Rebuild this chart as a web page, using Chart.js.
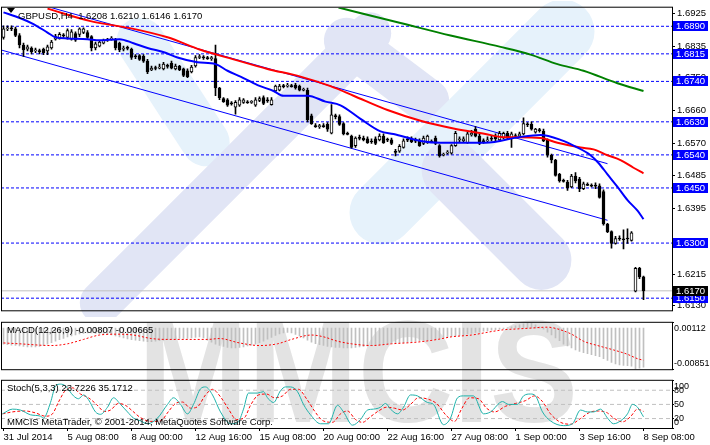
<!DOCTYPE html>
<html>
<head>
<meta charset="utf-8">
<script src="https://cdn.jsdelivr.net/npm/chart.js@4.4.1/dist/chart.umd.min.js"></script>
<style>
  body { margin: 0; background: #fff; width: 710px; height: 445px; overflow: hidden; position: relative; }
  canvas { position: absolute; left: 0; z-index: 2; }
  #main { top: 0; }
  #macd { top: 312px; }
  #stoch { top: 370px; }
  /* broker logo behind the price panel */
  #logo { position: absolute; left: 2px; top: 1px; width: 670px; height: 316px; overflow: hidden; z-index: 0; }
  .band { position: absolute; }
  .cyan { background: #e6f2fb; }
  .lav { background: #e1e5f5; }
  .b1 { left: 87px; top: 67px; width: 168px; height: 48px; border-radius: 24px; transform: rotate(57deg); }
  .b2 { left: 22px; top: 146px; width: 423px; height: 42px; border-radius: 21px; transform: rotate(-45deg); }
  .b3 { left: 310px; top: 89px; width: 320px; height: 64px; border-radius: 32px; transform: rotate(-45deg); }
  .b4 { left: 401px; top: 184px; width: 187px; height: 60px; border-radius: 30px; transform: rotate(45deg); }
  .b5 { left: 312px; top: 47px; width: 145px; height: 45px; border-radius: 22px; transform: rotate(37deg); }
  #mark { position: absolute; left: 138px; top: 300px; z-index: 1; font: bold 132px "Liberation Sans", Arial, sans-serif;
          line-height: 1; color: #e3e3e3; transform: scaleY(1.1); transform-origin: top left; white-space: nowrap; }
</style>
</head>
<body>
<div id="logo">
  <div class="band cyan b1"></div>
  <div class="band lav b2"></div>
  <div class="band lav b5"></div>
  <div class="band cyan b3"></div>
  <div class="band lav b4"></div>
</div>
<div id="mark">MMCIS</div>
<canvas id="main" width="710" height="318"></canvas>
<canvas id="macd" width="710" height="68"></canvas>
<canvas id="stoch" width="710" height="75"></canvas>
<script>
// GBPUSD H4, 31 Jul - 8 Sep 2014, one entry per bar
const opens = [1.6860,1.6883,1.6886,1.6883,1.6865,1.6839,1.6828,1.6831,1.6823,1.6823,
  1.6828,1.6823,1.6831,1.6855,1.6857,1.6865,1.6860,1.6855,1.6870,1.6868,
  1.6873,1.6873,1.6862,1.6831,1.6836,1.6844,1.6852,1.6855,1.6852,1.6844,
  1.6828,1.6831,1.6828,1.6808,1.6810,1.6808,1.6795,1.6771,1.6776,1.6776,
  1.6774,1.6782,1.6789,1.6774,1.6782,1.6774,1.6769,1.6766,1.6782,1.6805,
  1.6805,1.6805,1.6802,1.6802,1.6722,1.6693,1.6690,1.6680,1.6670,1.6675,
  1.6683,1.6683,1.6683,1.6675,1.6688,1.6696,1.6688,1.6677,1.6714,1.6716,
  1.6727,1.6727,1.6727,1.6730,1.6727,1.6716,1.6716,1.6646,1.6620,1.6617,
  1.6620,1.6623,1.6599,1.6646,1.6644,1.6625,1.6597,1.6591,1.6565,1.6586,
  1.6586,1.6584,1.6576,1.6584,1.6581,1.6591,1.6581,1.6581,1.6550,1.6550,
  1.6560,1.6581,1.6584,1.6578,1.6578,1.6571,1.6573,1.6576,1.6586,1.6565,
  1.6539,1.6545,1.6545,1.6565,1.6581,1.6578,1.6573,1.6594,1.6610,1.6591,
  1.6578,1.6578,1.6584,1.6591,1.6581,1.6586,1.6599,1.6584,1.6591,1.6591,
  1.6597,1.6623,1.6623,1.6602,1.6607,1.6604,1.6581,1.6539,1.6526,1.6487,
  1.6469,1.6466,1.6453,1.6482,1.6474,1.6448,1.6458,1.6456,1.6456,1.6456,
  1.6440,1.6352,1.6331,1.6299,1.6312,1.6310,1.6312,1.6307,1.6169,1.6231,
  1.6208];
const highs = [1.6891,1.6891,1.6891,1.6888,1.6870,1.6844,1.6839,1.6834,1.6831,1.6828,
  1.6831,1.6839,1.6852,1.6868,1.6873,1.6870,1.6883,1.6881,1.6875,1.6886,
  1.6886,1.6878,1.6865,1.6847,1.6852,1.6855,1.6857,1.6862,1.6857,1.6847,
  1.6836,1.6836,1.6831,1.6813,1.6813,1.6813,1.6800,1.6782,1.6782,1.6787,
  1.6792,1.6787,1.6795,1.6787,1.6784,1.6776,1.6774,1.6784,1.6810,1.6813,
  1.6810,1.6808,1.6808,1.6839,1.6724,1.6696,1.6693,1.6685,1.6688,1.6696,
  1.6693,1.6688,1.6688,1.6696,1.6698,1.6701,1.6696,1.6696,1.6730,1.6732,
  1.6732,1.6735,1.6732,1.6735,1.6730,1.6722,1.6722,1.6651,1.6625,1.6623,
  1.6625,1.6628,1.6677,1.6651,1.6649,1.6628,1.6602,1.6594,1.6589,1.6594,
  1.6591,1.6589,1.6584,1.6589,1.6597,1.6597,1.6586,1.6586,1.6555,1.6568,
  1.6584,1.6589,1.6589,1.6586,1.6584,1.6591,1.6594,1.6581,1.6591,1.6568,
  1.6545,1.6552,1.6568,1.6604,1.6589,1.6589,1.6602,1.6607,1.6617,1.6597,
  1.6584,1.6589,1.6591,1.6597,1.6604,1.6602,1.6604,1.6602,1.6597,1.6602,
  1.6641,1.6628,1.6630,1.6612,1.6612,1.6610,1.6584,1.6542,1.6528,1.6490,
  1.6474,1.6471,1.6487,1.6492,1.6479,1.6466,1.6464,1.6461,1.6464,1.6461,
  1.6445,1.6354,1.6333,1.6318,1.6320,1.6336,1.6339,1.6331,1.6234,1.6234,
  1.6210];
const lows = [1.6855,1.6878,1.6878,1.6862,1.6831,1.6808,1.6823,1.6815,1.6818,1.6815,
  1.6813,1.6813,1.6828,1.6852,1.6855,1.6860,1.6855,1.6852,1.6849,1.6862,
  1.6870,1.6857,1.6823,1.6826,1.6834,1.6842,1.6849,1.6852,1.6826,1.6821,
  1.6823,1.6826,1.6800,1.6802,1.6797,1.6792,1.6761,1.6769,1.6771,1.6774,
  1.6771,1.6776,1.6774,1.6771,1.6769,1.6753,1.6750,1.6763,1.6779,1.6802,
  1.6800,1.6800,1.6797,1.6701,1.6690,1.6683,1.6672,1.6675,1.6651,1.6672,
  1.6680,1.6680,1.6680,1.6672,1.6685,1.6677,1.6683,1.6675,1.6711,1.6714,
  1.6722,1.6724,1.6724,1.6719,1.6714,1.6714,1.6630,1.6623,1.6615,1.6612,
  1.6615,1.6604,1.6597,1.6638,1.6620,1.6594,1.6594,1.6558,1.6560,1.6581,
  1.6578,1.6571,1.6571,1.6568,1.6578,1.6571,1.6576,1.6568,1.6537,1.6547,
  1.6558,1.6576,1.6573,1.6573,1.6563,1.6568,1.6571,1.6573,1.6568,1.6534,
  1.6537,1.6542,1.6542,1.6563,1.6573,1.6573,1.6571,1.6591,1.6589,1.6568,
  1.6571,1.6573,1.6578,1.6578,1.6578,1.6584,1.6584,1.6560,1.6586,1.6589,
  1.6594,1.6617,1.6607,1.6599,1.6602,1.6576,1.6534,1.6518,1.6482,1.6466,
  1.6466,1.6443,1.6451,1.6464,1.6440,1.6445,1.6456,1.6453,1.6448,1.6422,
  1.6349,1.6328,1.6286,1.6297,1.6307,1.6284,1.6299,1.6305,1.6167,1.6203,
  1.6146];
const closes = [1.6883,1.6886,1.6883,1.6865,1.6839,1.6826,1.6834,1.6821,1.6826,1.6821,
  1.6818,1.6834,1.6847,1.6862,1.6868,1.6864,1.6878,1.6875,1.6852,1.6883,
  1.6883,1.6860,1.6831,1.6842,1.6847,1.6852,1.6855,1.6857,1.6831,1.6826,
  1.6831,1.6830,1.6805,1.6807,1.6800,1.6795,1.6766,1.6776,1.6775,1.6779,
  1.6787,1.6781,1.6776,1.6782,1.6771,1.6756,1.6753,1.6779,1.6805,1.6807,
  1.6804,1.6802,1.6803,1.6722,1.6696,1.6685,1.6675,1.6679,1.6683,1.6690,
  1.6690,1.6682,1.6684,1.6690,1.6693,1.6680,1.6687,1.6690,1.6727,1.6727,
  1.6726,1.6728,1.6726,1.6722,1.6716,1.6717,1.6636,1.6625,1.6617,1.6618,
  1.6617,1.6610,1.6649,1.6644,1.6623,1.6597,1.6596,1.6560,1.6586,1.6585,
  1.6581,1.6573,1.6575,1.6571,1.6591,1.6573,1.6580,1.6571,1.6547,1.6563,
  1.6578,1.6580,1.6576,1.6577,1.6565,1.6586,1.6591,1.6575,1.6571,1.6537,
  1.6540,1.6547,1.6565,1.6599,1.6584,1.6584,1.6597,1.6599,1.6591,1.6571,
  1.6576,1.6581,1.6583,1.6584,1.6599,1.6599,1.6586,1.6597,1.6590,1.6597,
  1.6625,1.6622,1.6610,1.6610,1.6606,1.6578,1.6539,1.6526,1.6484,1.6469,
  1.6468,1.6451,1.6482,1.6469,1.6448,1.6461,1.6457,1.6455,1.6455,1.6424,
  1.6352,1.6331,1.6299,1.6312,1.6311,1.6309,1.6311,1.6328,1.6231,1.6208,
  1.6170];

// moving averages (read at bar positions)
const blueIdx = [0,4.25,7.5,11,13,16,21,24,29,32.5,36,40.5,43.5,48.5,53,56,59.25,63.5,67.5,70,
  76,80.5,84.25,89.25,94.25,97.5,104.25,109.25,120.5,129.25,134.25,139.25,143.5,146.75,148.75,151,153.5,156,158.5,160];
const blueVal = [1.6928,1.6912,1.6896,1.6873,1.6860,1.6857,1.6855,1.6852,1.6855,1.6844,1.6831,1.6818,1.6805,1.6792,1.6787,1.6769,1.6753,1.6730,1.6714,1.6701,
  1.6701,1.6685,1.6675,1.6638,1.6604,1.6597,1.6578,1.6573,1.6573,1.6589,1.6594,1.6581,1.6560,1.6539,1.6518,1.6487,1.6453,1.6417,1.6388,1.6365];
const redIdx = [11,21.75,32.5,41,49.25,57.5,66,74.25,81.75,87.5,96,104.25,112.5,120.5,124.25,134.25,138.5,144.25,147.5,151,154.25,157.5,160];
const redVal = [1.6938,1.6904,1.6883,1.6860,1.6826,1.6800,1.6774,1.6753,1.6727,1.6701,1.6662,1.6633,1.6612,1.6597,1.6589,1.6586,1.6573,1.6560,1.6555,1.6539,1.6526,1.6505,1.6490];
const greenIdx = [83.75,99.25,111.75,124.25,131.75,138.5,145,153.5,160];
const greenVal = [1.6941,1.6899,1.6865,1.6834,1.6813,1.6787,1.6769,1.6735,1.6714];

// channel trend lines
const chanLowIdx = [-0.75, 151];
const chanLowVal = [1.6826, 1.6362];
const chanUpIdx = [11.25, 151];
const chanUpVal = [1.6943, 1.6516];

// horizontal levels and price axis
const levels = [1.6890, 1.6815, 1.6740, 1.6630, 1.6540, 1.6450, 1.6300, 1.6150];
const bid = 1.6170;
const priceTicks = [1.6925, 1.6835, 1.6750, 1.6660, 1.6570, 1.6485, 1.6395, 1.6305, 1.6215, 1.6130];

// MACD(12,26,9)
const macdMain = [-0.0033,-0.0034,-0.0035,-0.0036,-0.0037,-0.0038,-0.0039,-0.0039,-0.0039,-0.0038,
  -0.0036,-0.0033,-0.0030,-0.0027,-0.0024,-0.0021,-0.0018,-0.0016,-0.0014,-0.0012,
  -0.0011,-0.0010,-0.0010,-0.0011,-0.0012,-0.0012,-0.0013,-0.0014,-0.0016,-0.0018,
  -0.0020,-0.0022,-0.0024,-0.0025,-0.0026,-0.0027,-0.0028,-0.0028,-0.0027,-0.0026,
  -0.0025,-0.0024,-0.0023,-0.0022,-0.0021,-0.0021,-0.0021,-0.0020,-0.0019,-0.0018,
  -0.0020,-0.0025,-0.0029,-0.0033,-0.0036,-0.0038,-0.0040,-0.0041,-0.0041,-0.0040,
  -0.0039,-0.0037,-0.0035,-0.0033,-0.0030,-0.0027,-0.0023,-0.0019,-0.0015,-0.0012,
  -0.0010,-0.0009,-0.0010,-0.0013,-0.0016,-0.0020,-0.0025,-0.0029,-0.0032,-0.0034,
  -0.0036,-0.0038,-0.0039,-0.0040,-0.0040,-0.0041,-0.0041,-0.0041,-0.0040,-0.0039,
  -0.0038,-0.0037,-0.0036,-0.0035,-0.0034,-0.0033,-0.0032,-0.0031,-0.0030,-0.0030,
  -0.0030,-0.0029,-0.0028,-0.0027,-0.0026,-0.0025,-0.0024,-0.0023,-0.0022,-0.0020,
  -0.0019,-0.0018,-0.0017,-0.0016,-0.0015,-0.0014,-0.0012,-0.0011,-0.0009,-0.0008,
  -0.0006,-0.0005,-0.0004,-0.0003,-0.0002,-0.0001,0.0001,0.0003,0.0005,0.0007,
  0.0009,0.0011,0.0010,0.0007,0.0003,-0.0002,-0.0008,-0.0014,-0.0020,-0.0026,
  -0.0033,-0.0037,-0.0041,-0.0045,-0.0048,-0.0051,-0.0053,-0.0055,-0.0057,-0.0059,
  -0.0063,-0.0067,-0.0071,-0.0074,-0.0076,-0.0077,-0.0078,-0.0079,-0.0085,-0.0083,
  -0.00807];
const macdSigIdx = [0,4,12,16,20,24,28.5,32.5,37,41,51,54,59,64,68.5,72,77,80,83.5,87,
  92,97,103.5,108.5,112,117,122,125,128.5,132,136,138.5,142,145,148.5,152.5,156,158.5,160];
const macdSigVal = [-0.00306,-0.00324,-0.00360,-0.00324,-0.00233,-0.00142,-0.00124,-0.00142,-0.00215,-0.00233,
  -0.00233,-0.00215,-0.00306,-0.00360,-0.00324,-0.00233,-0.00142,-0.00179,-0.00270,-0.00324,
  -0.00360,-0.00324,-0.00288,-0.00233,-0.00179,-0.00142,-0.00070,-0.00033,-0.00015,0.00003,
  0.00021,-0.00015,-0.00124,-0.00270,-0.00360,-0.00451,-0.00542,-0.00633,-0.00665];
const macdMax = 0.00112;
const macdMin = -0.00851;

// Stochastic(5,3,3)
const stochIdx = [-0.25,2.25,4.25,6.75,9.25,10,11.75,13,14.25,15.5,17.5,18.75,20,21.25,23,24.25,26,27.5,29.25,31,
  32.5,34.25,36,38.5,41,42.5,44.25,46,47.5,49.25,50.5,52.25,54.25,56.75,58.5,60,61.25,63.5,65,66,
  67.5,69.25,70.5,71.75,73.5,75,76.75,79.25,81.25,83.5,85,87.25,89.25,91,92.5,94.25,95.5,96.75,98.5,100,
  101.75,103.5,106,107.5,110,111.75,113.5,115,117.5,120,121.75,124.75,126.25,128.5,130,131.75,133,134.75,136.75,140,
  142.25,144.25,146,147.5,149.25,151,152.5,154.25,156,157.25,158.5,160];
const stochVal = [30,40,38,28,25,21,54,89,93,89,68,62,70,60,34,29,44,64,50,34,
  21,15,9,21,50,64,50,30,50,83,87,70,34,9,11,40,74,74,77,64,
  54,79,87,87,77,50,28,9,9,48,34,6,18,38,40,44,52,40,30,44,
  70,68,54,50,7,21,64,68,68,30,34,56,50,50,68,72,68,34,15,5,
  9,38,34,34,40,21,9,15,30,50,44,23.72];
const stochSigIdx = [-0.25,3,5.5,8,10.5,12.25,13.75,15.5,17.25,19.25,21.25,23.25,25.25,26.75,28.75,30.5,32.25,34.25,36.75,39.25,
  41.25,43,44.75,46.75,48.5,50.5,52.25,54.25,56.25,58.25,60.25,61.75,63.75,65.75,67.75,69.75,71.75,73.75,75.75,77.75,
  79.75,82.25,84.25,86,88,89.75,91.75,93.75,95.75,97.75,99.75,101.75,103.75,105.75,108.25,110.75,112.75,114.5,116.5,118.75,
  120.75,122.75,125.5,128,130.5,132.75,134.75,136.75,139.25,141.75,144.25,146.75,148.75,150.75,152.75,154.75,156.75,158.5,160];
const stochSigVal = [30,35,36,32,25,30,55,80,85,72,64,50,35,38,52,48,36,22,14,15,
  35,52,55,42,45,70,82,66,40,18,22,48,70,72,64,68,82,82,62,36,
  16,12,30,36,18,12,24,36,44,42,38,50,64,62,52,26,14,40,64,62,
  42,34,46,52,58,68,56,30,12,8,20,34,36,33,20,13,24,40,35.17];
const stochLevels = [20, 50, 80];
const stochTicks = [100, 80, 50, 20, 0];

// time axis
const timeIdx = [0, 16, 32, 48, 64, 80, 96, 112, 128, 144, 160];
const timeLabels = ['31 Jul 2014', '5 Aug 08:00', '8 Aug 00:00', '12 Aug 16:00', '15 Aug 08:00', '20 Aug 00:00',
  '22 Aug 16:00', '27 Aug 08:00', '1 Sep 00:00', '3 Sep 16:00', '8 Sep 08:00'];

const FONT = '"Liberation Sans", Arial, sans-serif';
Chart.defaults.font.family = FONT;
Chart.defaults.font.size = 9.5;
Chart.defaults.color = '#000';
Chart.defaults.animation = false;
Chart.defaults.plugins.legend.display = false;
Chart.defaults.plugins.tooltip.enabled = false;

// bar i sits at 3.5 + 4*i px, with the plot running from x=1 to x=672
const X_MIN = -0.625;
const X_MAX = 167.125;

function pairs(xs, ys) {
  return xs.map(function (x, k) { return { x: x, y: ys[k] }; });
}

function hline(v, color, dash, order) {
  return {
    type: 'line', data: [{ x: X_MIN, y: v }, { x: X_MAX, y: v }],
    borderColor: color, borderWidth: 1, borderDash: dash, pointRadius: 0, order: order
  };
}

function curve(xs, ys, color, width, dash, order) {
  return {
    type: 'line', data: pairs(xs, ys), borderColor: color, borderWidth: width,
    borderDash: dash || [], pointRadius: 0, cubicInterpolationMode: 'monotone', order: order
  };
}

function xHidden() {
  return { type: 'linear', min: X_MIN, max: X_MAX, offset: false, display: false };
}

// right value axis, 38px wide. In the indicator windows the terminal keeps the
// top and bottom labels inside the panel, so those get an empty line that pushes them inward.
function yRight(min, max, ticks, digits, inset) {
  return {
    type: 'linear', position: 'right', min: min, max: max,
    afterBuildTicks: function (s) { s.ticks = ticks.map(function (v) { return { value: v }; }); },
    afterFit: function (s) { s.width = 38; },
    ticks: {
      autoSkip: false, padding: inset ? 0 : 2, font: { size: inset ? 9 : 9.5 },
      callback: function (v) {
        const txt = Number(v).toFixed(digits);
        if (inset && v === max) return ['', txt];
        if (inset && v === min) return [txt, ''];
        return txt;
      }
    },
    grid: { drawOnChartArea: false, tickLength: inset ? 2 : 3, tickColor: '#000' },
    border: { display: false }
  };
}

function framePlugin(texts) {
  return {
    id: 'frame',
    afterDraw: function (chart) {
      const ctx = chart.ctx;
      const a = chart.chartArea;
      ctx.save();
      ctx.strokeStyle = '#000';
      ctx.lineWidth = 1;
      ctx.strokeRect(a.left + 0.5, a.top - 0.5, a.right - a.left, a.bottom - a.top + 1);
      ctx.fillStyle = '#000';
      ctx.font = '9.5px ' + FONT;
      ctx.textBaseline = 'middle';
      texts.forEach(function (t) { ctx.fillText(t[0], a.left + t[1], a.top + t[2]); });
      ctx.restore();
    }
  };
}

// coloured price boxes on the right axis
const priceBoxes = {
  id: 'priceBoxes',
  afterDraw: function (chart) {
    const ctx = chart.ctx;
    const y = chart.scales.y;
    const x0 = chart.chartArea.right + 1;
    function box(v, color) {
      const py = Math.round(y.getPixelForValue(v));
      ctx.fillStyle = color;
      ctx.fillRect(x0, py - 5, 35, 10);
      ctx.fillStyle = '#fff';
      ctx.fillText(v.toFixed(4), x0 + 3, py);
    }
    ctx.save();
    ctx.font = '9.5px ' + FONT;
    ctx.textBaseline = 'middle';
    levels.forEach(function (v) { box(v, '#0000ff'); });
    box(bid, '#000');
    // symbol marker before the title
    ctx.fillStyle = '#000';
    ctx.beginPath();
    ctx.moveTo(7, 8); ctx.lineTo(15, 8); ctx.lineTo(11, 13); ctx.closePath();
    ctx.fill();
    ctx.restore();
  }
};

const bars = closes.map(function (_, i) { return i; });

new Chart(document.getElementById('main'), {
  type: 'bar',
  data: {
    datasets: [
      {
        data: bars.map(function (i) { return { x: i, y: [lows[i], highs[i]] }; }),
        backgroundColor: '#000', barThickness: 1, grouped: false, order: 4
      },
      {
        data: bars.map(function (i) { return { x: i, y: [opens[i], closes[i]] }; }),
        backgroundColor: bars.map(function (i) { return closes[i] >= opens[i] ? '#fff' : '#000'; }),
        borderColor: '#000', borderWidth: 1, borderSkipped: false, minBarLength: 1,
        barThickness: 3, grouped: false, order: 3
      },
      hline(bid, '#c0c0c0', [], 6)
    ].concat(levels.map(function (v) { return hline(v, '#0000ff', [3, 2], 6); }), [
      curve(chanLowIdx, chanLowVal, '#0000ff', 1, null, 5),
      curve(chanUpIdx, chanUpVal, '#0000ff', 1, null, 5),
      curve(greenIdx, greenVal, '#008000', 2, null, 2),
      curve(redIdx, redVal, '#ff0000', 2, null, 2),
      curve(blueIdx, blueVal, '#0000ff', 2, null, 1)
    ])
  },
  options: {
    responsive: false,
    layout: { autoPadding: false, padding: { left: 1, right: 0, top: 1, bottom: 1 } },
    scales: {
      x: xHidden(),
      y: yRight(1.61170, 1.69406, priceTicks, 4, false)
    }
  },
  plugins: [framePlugin([['GBPUSD,H4  1.6208 1.6210 1.6146 1.6170', 17, 9]]), priceBoxes]
});

new Chart(document.getElementById('macd'), {
  type: 'bar',
  data: {
    datasets: [
      {
        data: bars.map(function (i) { return { x: i, y: macdMain[i] }; }),
        backgroundColor: '#c0c0c0', barThickness: 1, grouped: false, order: 2
      },
      curve(macdSigIdx, macdSigVal, '#ff0000', 1, [2, 2], 1)
    ]
  },
  options: {
    responsive: false,
    layout: { autoPadding: false, padding: { left: 1, right: 0, top: 7, bottom: 7 } },
    scales: {
      x: xHidden(),
      y: yRight(macdMin, macdMax, [macdMax, macdMin], 5, true)
    }
  },
  plugins: [framePlugin([['MACD(12,26,9) -0.00807 -0.00665', 6, 8]])]
});

const stochX = {
  type: 'linear', min: X_MIN, max: X_MAX, offset: false, position: 'bottom',
  afterBuildTicks: function (s) { s.ticks = timeIdx.map(function (v) { return { value: v }; }); },
  afterFit: function (s) { s.height = 17; },
  ticks: {
    autoSkip: false, maxRotation: 0, align: 'start', padding: 1,
    callback: function (v) { return timeLabels[timeIdx.indexOf(v)]; }
  },
  grid: { drawOnChartArea: false, tickLength: 3, tickColor: '#000' },
  border: { display: false }
};

new Chart(document.getElementById('stoch'), {
  type: 'line',
  data: {
    datasets: stochLevels.map(function (v) { return hline(v, '#c0c0c0', [4, 3], 3); }).concat([
      curve(stochSigIdx, stochSigVal, '#ff0000', 1, [3, 2], 2),
      curve(stochIdx, stochVal, '#20b2aa', 1, null, 1)
    ])
  },
  options: {
    responsive: false,
    layout: { autoPadding: false, padding: { left: 1, right: 0, top: 7, bottom: 0 } },
    scales: {
      x: stochX,
      y: yRight(0, 100, stochTicks, 0, true)
    }
  },
  plugins: [framePlugin([['Stoch(5,3,3) 23.7226 35.1712', 6, 8], ['MMCIS MetaTrader, \u00a9 2001-2014, MetaQuotes Software Corp.', 6, 42]])]
});
</script>
</body>
</html>
